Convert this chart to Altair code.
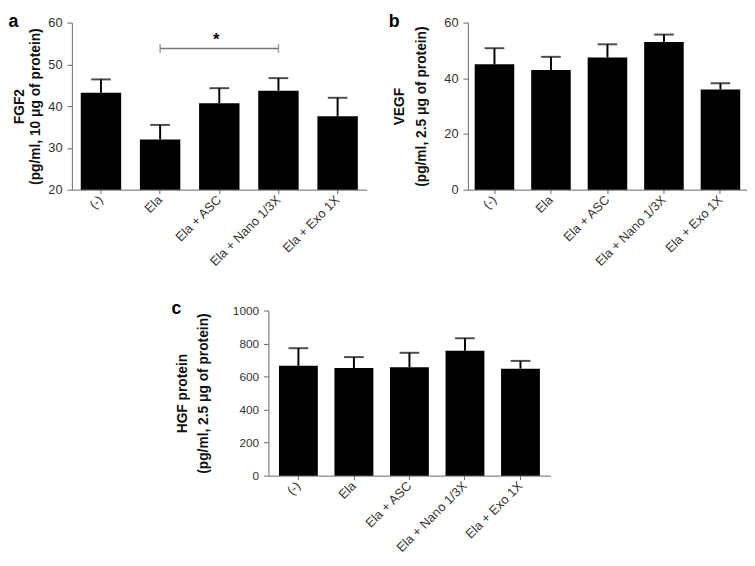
import altair as alt
import pandas as pd

groups = ["(-)", "Ela", "Ela + ASC", "Ela + Nano 1/3X", "Ela + Exo 1X"]

fgf2_mean = [43.2, 32.0, 40.7, 43.7, 37.6]
fgf2_err = [46.4, 35.5, 44.3, 46.7, 42.0]

vegf_mean = [45.0, 43.0, 47.5, 53.0, 36.0]
vegf_err = [50.8, 47.7, 52.2, 55.7, 38.2]

hgf_mean = [665, 652, 657, 757, 648]
hgf_err = [772, 718, 744, 832, 695]

sig_from = "Ela"
sig_to = "Ela + Nano 1/3X"
sig_mid = "Ela + ASC"
sig_y = 53.8
sig_star_y = 55.8

FONT = "Liberation Sans"


def xenc(field, pin, pout):
    scale = alt.Scale(domain=groups, paddingInner=pin, paddingOuter=pout)
    return alt.X(field, scale=scale, title=None,
                 axis=alt.Axis(labelAngle=-45, labelAlign="right", labelBaseline="middle",
                               ticks=True, tickSize=4, tickColor="#666666",
                               labelPadding=4, labelFontSize=13,
                               labelColor="#333333", domainColor="#666666",
                               labelFont=FONT))


def yenc_factory(ymin, ymax, ystep, ytitle, tpad, lsize, lh):
    yscale = alt.Scale(domain=[ymin, ymax], zero=False, nice=False)
    yaxis = alt.Axis(values=list(range(ymin, ymax + 1, ystep)), grid=False,
                     format="d", labelOverlap=False, labelFlush=False,
                     title=ytitle, titleFontSize=14, titleFontWeight="bold",
                     titleFont=FONT, titleColor="#111111", titlePadding=tpad,
                     titleLineHeight=lh,
                     labelFontSize=lsize, labelColor="#333333", labelFont=FONT,
                     domainColor="#666666", tickColor="#666666", tickSize=5,
                     labelPadding=5)

    def yenc(field):
        return alt.Y(field, scale=yscale, axis=yaxis)
    return yenc


def panel(letter, means, errs, ymin, ymax, ystep, ytitle, w, h, pin, pout,
          tpad=8, lsize=13, lh=22, extra=None):
    df = pd.DataFrame({"g": groups, "v": means, "e": errs})
    yenc = yenc_factory(ymin, ymax, ystep, ytitle, tpad, lsize, lh)
    base = alt.Chart(df)
    bars = base.mark_bar(color="black").encode(
        x=xenc("g:N", pin, pout), y=yenc("v:Q"), y2=alt.datum(ymin))
    rule = base.mark_rule(color="black", strokeWidth=2).encode(
        x=xenc("g:N", pin, pout), y=yenc("v:Q"), y2="e:Q")
    cap = base.mark_tick(color="black", thickness=2, size=20).encode(
        x=xenc("g:N", pin, pout), y=yenc("e:Q"))
    layers = [bars, rule, cap]
    for make in (extra or []):
        layers.append(make(yenc, pin, pout))
    return alt.layer(*layers).properties(
        width=w, height=h,
        title=alt.TitleParams(letter, anchor="start", frame="bounds", fontSize=18,
                              fontWeight="bold", font=FONT, color="black",
                              offset=-14, dx=-4)
    )


sig_df = pd.DataFrame({"a": [sig_from], "b": [sig_to], "y": [sig_y]})
ends_df = pd.DataFrame({"g": [sig_from, sig_to], "y": [sig_y, sig_y]})
star_df = pd.DataFrame({"g": [sig_mid], "y": [sig_star_y], "t": ["*"]})


def make_bracket(yenc, pin, pout):
    return alt.Chart(sig_df).mark_rule(color="#777777", strokeWidth=1.5).encode(
        x=xenc("a:N", pin, pout), x2="b:N", y=yenc("y:Q"))


def make_ends(yenc, pin, pout):
    return alt.Chart(ends_df).mark_tick(color="#777777", thickness=1.5, size=9,
                                         orient="vertical").encode(
        x=xenc("g:N", pin, pout), y=yenc("y:Q"))


def make_star(yenc, pin, pout):
    return alt.Chart(star_df).mark_text(fontSize=17, fontWeight="bold", font=FONT,
                                        baseline="middle", dx=-3).encode(
        x=xenc("g:N", pin, pout), y=yenc("y:Q"), text="t:N")


chart_a = panel("a", fgf2_mean, fgf2_err, 20, 60, 10,
                ["FGF2", "(pg/ml, 10 \u03bcg of protein)"], 300, 170, 0.317, 0.15,
                tpad=5, lh=17, extra=[make_bracket, make_ends, make_star])

chart_b = panel("b", vegf_mean, vegf_err, 0, 60, 20,
                ["VEGF", "(pg/ml, 2.5 \u03bcg of protein)"], 284, 170, 0.3, 0.12,
                tpad=16)

chart_c = panel("c", hgf_mean, hgf_err, 0, 1000, 200,
                ["HGF protein", "(pg/ml, 2.5 \u03bcg of protein)"], 287, 168, 0.3, 0.19,
                tpad=22, lsize=12)

top = alt.hconcat(chart_a, chart_b, spacing=22)
chart = alt.vconcat(top, chart_c, spacing=32, center=True).configure(
    padding={"left": 0, "top": 0, "right": 0, "bottom": 0},
    background="white",
    view=alt.ViewConfig(strokeWidth=0, stroke="transparent"))

chart.save("out.html", embed_options={"renderer": "svg", "actions": False})
